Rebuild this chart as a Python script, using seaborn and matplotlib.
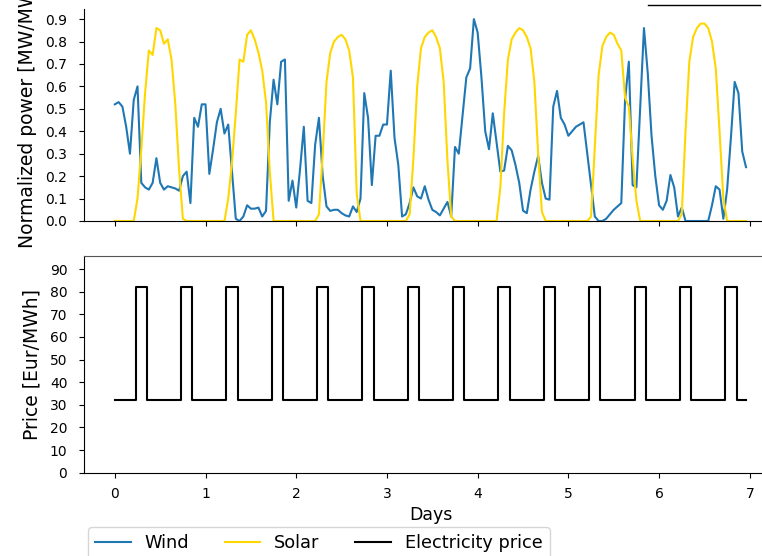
import numpy as np
import pandas as pd
import matplotlib
matplotlib.use("Agg")
import matplotlib.pyplot as plt
import seaborn as sns
from matplotlib.lines import Line2D

# hourly profiles over one week
wind = [
    0.52, 0.53, 0.51, 0.42, 0.30, 0.54, 0.60, 0.17, 0.15, 0.14, 0.17, 0.28,
    0.17, 0.14, 0.155, 0.15, 0.145, 0.135, 0.20, 0.22, 0.08, 0.46, 0.42, 0.52,
    0.52, 0.21, 0.32, 0.44, 0.50, 0.39, 0.43, 0.22, 0.01, 0.00, 0.02, 0.07,
    0.055, 0.055, 0.06, 0.02, 0.045, 0.44, 0.63, 0.52, 0.71, 0.72, 0.09, 0.18,
    0.06, 0.23, 0.42, 0.09, 0.08, 0.34, 0.46, 0.20, 0.065, 0.045, 0.05, 0.05,
    0.035, 0.025, 0.02, 0.065, 0.04, 0.10, 0.57, 0.46, 0.16, 0.38, 0.38, 0.43,
    0.43, 0.67, 0.37, 0.25, 0.02, 0.03, 0.08, 0.15, 0.11, 0.10, 0.155, 0.095,
    0.05, 0.04, 0.025, 0.055, 0.085, 0.02, 0.33, 0.30, 0.47, 0.64, 0.68, 0.90,
    0.84, 0.64, 0.40, 0.32, 0.48, 0.35, 0.22, 0.225, 0.335, 0.315, 0.25, 0.17,
    0.046, 0.035, 0.14, 0.22, 0.29, 0.17, 0.10, 0.095, 0.51, 0.58, 0.46, 0.43,
    0.38, 0.40, 0.42, 0.43, 0.44, 0.30, 0.16, 0.02, 0.00, 0.00, 0.01, 0.03,
    0.05, 0.065, 0.08, 0.54, 0.71, 0.16, 0.15, 0.50, 0.86, 0.66, 0.38, 0.20,
    0.07, 0.05, 0.09, 0.205, 0.15, 0.02, 0.06, 0.00, 0.00, 0.00, 0.00, 0.00,
    0.00, 0.00, 0.07, 0.155, 0.14, 0.01, 0.14, 0.37, 0.62, 0.57, 0.31, 0.24,
]

solar = [
    0, 0, 0, 0, 0, 0, 0.10, 0.32, 0.57, 0.76, 0.74, 0.86,
    0.85, 0.79, 0.81, 0.72, 0.52, 0.23, 0.01, 0, 0, 0, 0, 0,
    0, 0, 0, 0, 0, 0, 0.10, 0.26, 0.48, 0.72, 0.71, 0.83,
    0.85, 0.81, 0.75, 0.67, 0.53, 0.22, 0, 0, 0, 0, 0, 0,
    0, 0, 0, 0, 0, 0, 0.03, 0.30, 0.62, 0.75, 0.80, 0.82,
    0.83, 0.81, 0.76, 0.64, 0.12, 0, 0, 0, 0, 0, 0, 0,
    0, 0, 0, 0, 0, 0, 0.03, 0.28, 0.60, 0.77, 0.82, 0.84,
    0.85, 0.82, 0.77, 0.62, 0.27, 0.02, 0, 0, 0, 0, 0, 0,
    0, 0, 0, 0, 0, 0, 0.15, 0.48, 0.72, 0.81, 0.84, 0.86,
    0.85, 0.82, 0.77, 0.62, 0.30, 0.04, 0, 0, 0, 0, 0, 0,
    0, 0, 0, 0, 0, 0, 0.02, 0.33, 0.65, 0.78, 0.82, 0.84,
    0.83, 0.79, 0.76, 0.55, 0.51, 0.28, 0.09, 0, 0, 0, 0, 0,
    0, 0, 0, 0, 0, 0, 0.03, 0.40, 0.71, 0.82, 0.86, 0.88,
    0.88, 0.86, 0.80, 0.68, 0.40, 0.10, 0, 0, 0, 0, 0, 0,
]

price = [
    32, 32, 32, 32, 32, 32, 82, 82, 82, 32, 32, 32, 32, 32, 32, 32, 32, 32, 82, 82, 82, 32, 32, 32,
    32, 32, 32, 32, 32, 32, 82, 82, 82, 32, 32, 32, 32, 32, 32, 32, 32, 32, 82, 82, 82, 32, 32, 32,
    32, 32, 32, 32, 32, 32, 82, 82, 82, 32, 32, 32, 32, 32, 32, 32, 32, 32, 82, 82, 82, 32, 32, 32,
    32, 32, 32, 32, 32, 32, 82, 82, 82, 32, 32, 32, 32, 32, 32, 32, 32, 32, 82, 82, 82, 32, 32, 32,
    32, 32, 32, 32, 32, 32, 82, 82, 82, 32, 32, 32, 32, 32, 32, 32, 32, 32, 82, 82, 82, 32, 32, 32,
    32, 32, 32, 32, 32, 32, 82, 82, 82, 32, 32, 32, 32, 32, 32, 32, 32, 32, 82, 82, 82, 32, 32, 32,
    32, 32, 32, 32, 32, 32, 82, 82, 82, 32, 32, 32, 32, 32, 32, 32, 32, 32, 82, 82, 82, 32, 32, 32,
]

power_ticks = [0.0, 0.1, 0.2, 0.3, 0.4, 0.5, 0.6, 0.7, 0.8, 0.9]
price_ticks = [0, 10, 20, 30, 40, 50, 60, 70, 80, 90]
day_ticks = [0, 1, 2, 3, 4, 5, 6, 7]


def main():
    df = pd.DataFrame({"Days": np.arange(len(wind)) / 24,
                       "Wind": wind, "Solar": solar, "Price": price})

    W, H = 762, 556
    fig = plt.figure(figsize=(W / 100, H / 100), dpi=100)
    # the reference is cropped on the right, so the axes run past the figure edge
    ax1 = fig.add_axes([84 / W, 1 - 221 / H, 693 / W, 212 / H])
    ax2 = fig.add_axes([84 / W, 1 - 472.7 / H, 693 / W, 217.2 / H])

    # Top panel: normalized generation
    sns.lineplot(data=df, x="Days", y="Wind", ax=ax1, color="#1f77b4",
                 linewidth=1.5, label="Wind", legend=False)
    sns.lineplot(data=df, x="Days", y="Solar", ax=ax1, color="gold",
                 linewidth=1.5, label="Solar", legend=False)
    ax1.set_ylim(0, 0.945)
    ax1.set_yticks(power_ticks)
    ax1.set_ylabel("Normalized power [MW/MW]", fontsize=13.5, labelpad=6)
    ax1.set_xlabel("")
    ax1.tick_params(labelbottom=False, labelsize=10)
    ax1.spines["top"].set_visible(False)
    ax1.spines["right"].set_visible(False)

    # Bottom panel: price
    sns.lineplot(data=df, x="Days", y="Price", ax=ax2, color="black",
                 linewidth=1.5, drawstyle="steps-mid",
                 label="Electricity price", legend=False)
    ax2.set_ylim(0, 96)
    ax2.set_yticks(price_ticks)
    ax2.set_ylabel("Price [Eur/MWh]", fontsize=13.5, labelpad=6)
    ax2.set_xlabel("Days", fontsize=12.5)
    ax2.tick_params(labelsize=10)
    ax2.spines["top"].set_color("#555555")

    for ax in (ax1, ax2):
        ax.set_xlim(-0.34, 7.30)
        ax.set_xticks(day_ticks)
        ax.tick_params(axis="y", pad=8.5)
        ax.tick_params(axis="x", pad=6.5)

    handles = ax1.get_lines()[:2] + ax2.get_lines()[:1]
    fig.legend(handles, [h.get_label() for h in handles], loc="upper left",
               bbox_to_anchor=(88 / W, 1 - 527 / H), ncol=3, fontsize=12.75,
               borderaxespad=0)

    # stray rule visible in the top-right corner of the reference
    fig.add_artist(Line2D([648 / W, 760 / W], [1 - 5 / H, 1 - 5 / H],
                          color="black", linewidth=1))

    fig.savefig("out.png", dpi=100)


if __name__ == "__main__":
    main()
